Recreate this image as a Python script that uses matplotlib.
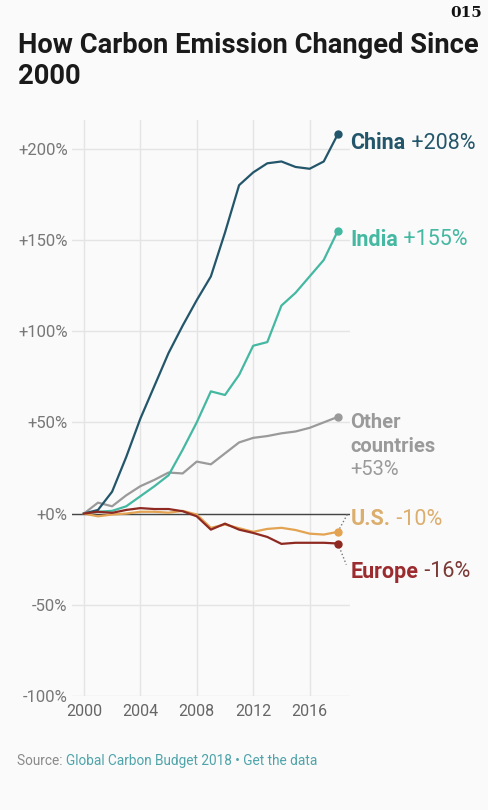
import numpy as np
import matplotlib
matplotlib.use("Agg")
import matplotlib.pyplot as plt

years = list(range(2000, 2019))
china = [0, 2, 12, 31, 52, 70, 88, 103, 117, 130, 154, 180, 187, 192, 193, 190, 189, 193, 208]
india = [0, 1, 1.5, 4, 9.5, 15, 21, 35, 50, 67, 65, 76, 92, 94, 114, 121, 130, 139, 155]
other = [0, 6, 4, 10, 15, 18.5, 22.5, 22, 28.5, 27, 33, 39, 41.5, 42.5, 44, 45, 47, 50, 53]
us = [0, -1.5, -0.5, 0, 1, 1, 0.5, 1.5, -0.5, -7.8, -6, -8, -10, -8.4, -7.8, -9, -11, -11.5, -10]
europe = [0, 1, 0.4, 2, 3, 2.5, 2.5, 1.3, -1.5, -8.8, -5.5, -8.8, -10.6, -12.8, -16.6, -16, -16, -16, -16.4]

yticks = [200, 150, 100, 50, 0, -50, -100]
ytick_labels = ["+200%", "+150%", "+100%", "+50%", "+0%", "-50%", "-100%"]
xticks = [2000, 2004, 2008, 2012, 2016]

bg = "#fafafa"
c_china = "#23566a"
c_india = "#45b8a2"
c_other = "#9a9a9a"
c_us = "#e3a352"
c_us_txt = "#dcae6e"
c_eu = "#8e2a22"
c_eu_txt = "#9b2b2e"

plt.rcParams['font.family'] = ['Roboto', 'DejaVu Sans']

fig = plt.figure(figsize=(4.89, 8.10), dpi=100, facecolor=bg)
ax = fig.add_axes([0.147, 0.1407, 0.569, 0.7113], facecolor=bg)

ax.set_xlim(1999.15, 2018.87)
ax.set_ylim(-100, 215.8)
ax.set_xticks(xticks)
ax.set_yticks(yticks)
ax.set_yticklabels(ytick_labels)
ax.tick_params(length=0, colors="#777777", labelsize=12)
ax.tick_params(axis="x", pad=6, labelcolor="#666666", labelsize=11.5)
ax.tick_params(axis="y", pad=3)
for s in ax.spines.values():
    s.set_visible(False)
ax.grid(True, color="#e4e4e4", linewidth=1)
ax.set_axisbelow(True)
ax.axhline(0, color="#444444", linewidth=1, zorder=2)

ax.plot(years, other, color=c_other, linewidth=1.6, zorder=3)
ax.plot(years, india, color=c_india, linewidth=1.6, zorder=3)
ax.plot(years, china, color=c_china, linewidth=1.6, zorder=4)
ax.plot(years, us, color=c_us, linewidth=1.6, zorder=5)
ax.plot(years, europe, color=c_eu, linewidth=1.6, zorder=5)

for vals, col in [(china, c_china), (india, c_india), (other, c_other), (us, c_us), (europe, c_eu)]:
    ax.plot(years[-1], vals[-1], "o", color=col, markersize=5, zorder=6, clip_on=False)

fs = 15.5


def end_label(name, pct, y, col, pcol):
    t = ax.annotate(name, xy=(2018.9, y), xycoords="data", fontsize=fs,
                    fontweight="bold", color=col, va="center", ha="left",
                    annotation_clip=False)
    ax.annotate(" " + pct, xy=(1, 0.5), xycoords=t, fontsize=fs, color=pcol,
                va="center", ha="left")


end_label("China", "+208%", 203, c_china, c_china)
end_label("India", "+155%", 150, c_india, c_india)
end_label("U.S.", "-10%", -3, c_us_txt, c_us_txt)
end_label("Europe", "-16%", -32, c_eu_txt, "#7a3a36")

ax.annotate("Other", xy=(2018.9, 50), xycoords="data", fontsize=14.5,
            fontweight="bold", color=c_other, va="center", ha="left", annotation_clip=False)
ax.annotate("countries", xy=(2018.9, 37), xycoords="data", fontsize=14.5,
            fontweight="bold", color=c_other, va="center", ha="left", annotation_clip=False)
ax.annotate("+53%", xy=(2018.9, 24), xycoords="data", fontsize=14.5,
            color=c_other, va="center", ha="left", annotation_clip=False)

# dotted connectors
ax.plot([years[-1], 2018.7], [us[-1], 0], ls=":", color="#777777", lw=1, clip_on=False)
ax.plot([years[-1], 2018.6], [europe[-1], -28], ls=":", color="#777777", lw=1, clip_on=False)

fig.text(0.036, 0.961, "How Carbon Emission Changed Since\n2000", fontsize=19.7,
         fontweight="bold", color="#1a1a1a", va="top", ha="left", linespacing=1.22)
fig.text(0.985, 0.992, "015", fontsize=11, fontweight="bold", family="DejaVu Serif",
         color="#111111", va="top", ha="right")

ts = fig.text(0.035, 0.06, "Source: ", fontsize=9.8, color="#8a8a8a", va="center", ha="left")
plt.annotate("Global Carbon Budget 2018 \u2022 Get the data", xy=(1, 0.5), xycoords=ts,
             fontsize=9.8, color="#4fa4aa", va="center", ha="left")

fig.savefig("out.png", dpi=100, facecolor=bg)
